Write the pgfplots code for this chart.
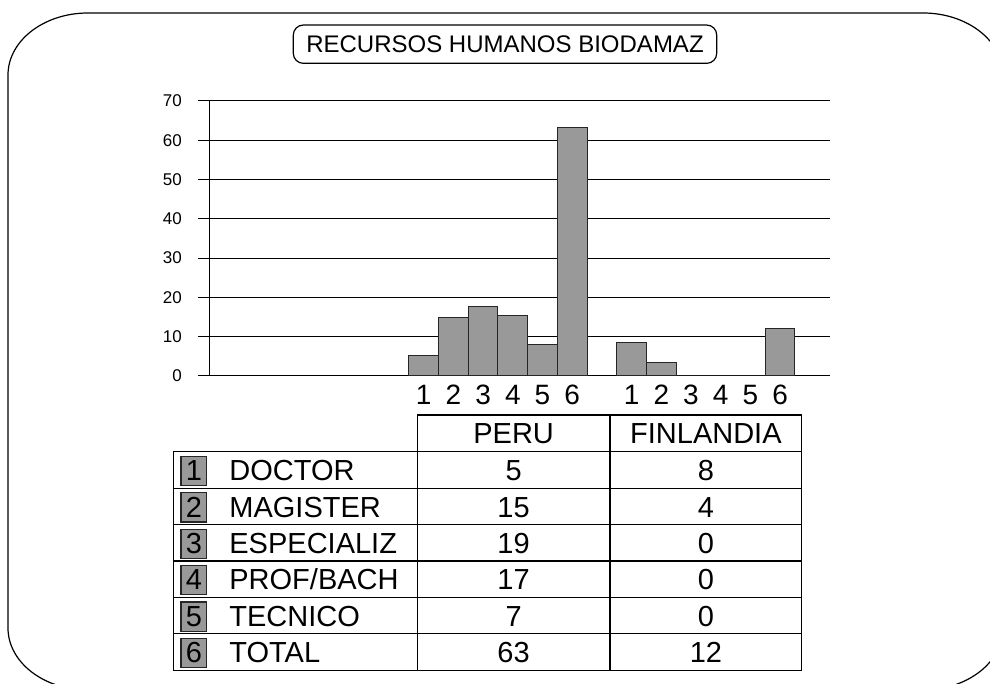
\documentclass[border=0pt]{standalone}
\usepackage{fontspec}
\setmainfont{Liberation Sans}
\usepackage{pgfplots}
\pgfplotsset{compat=1.18}
\definecolor{barg}{RGB}{153,153,153}
\begin{document}
\begin{tikzpicture}[x=0.5pt,y=0.5pt]
\useasboundingbox (0,0) rectangle (990,684);
\begin{scope}
\clip (0,0) rectangle (990,684);
\draw[line width=0.6pt] (88,671) -- (923,671) arc[start angle=90,end angle=0,x radius=80,y radius=62] -- (1003,56) arc[start angle=0,end angle=-90,x radius=80,y radius=62] -- (88,-6) arc[start angle=270,end angle=180,x radius=80,y radius=62] -- (8,609) arc[start angle=180,end angle=90,x radius=80,y radius=62] -- cycle;
\end{scope}
\node[draw, rounded corners=5pt, minimum width=211.7pt, minimum height=19.15pt, inner sep=0pt, line width=0.6pt, font=\fontsize{12}{15}\selectfont] at (505,639.8) {RECURSOS HUMANOS BIODAMAZ};
\begin{axis}[
  at={(104.65pt,154pt)}, anchor=south west,
  scale only axis, width=310.35pt, height=137.5pt,
  xmin=-6.219, xmax=14.68, ymin=0, ymax=70,
  axis lines*=left, axis line style={-, black, line width=0.5pt},
  ymajorgrids, grid style={black, line width=0.5pt},
  ytick={0,10,...,70}, tick align=outside, major tick length=5.5pt,
  ytick style={black, line width=0.5pt},
  xtick={1,2,3,4,5,6,8,9,10,11,12,13},
  xticklabels={1,2,3,4,5,6,1,2,3,4,5,6},
  xtick style={draw=none},
  xticklabel style={font=\fontsize{14}{16}\selectfont, inner sep=0pt, anchor=north, yshift=1pt},
  yticklabel style={font=\fontsize{8.5}{10}\selectfont, inner sep=0pt, anchor=east, xshift=-8pt},
  /pgf/number format/assume math mode=true,
  ybar, bar width=1, bar shift=0pt,
]
\addplot[fill=barg, draw=black!85, line width=0.5pt] coordinates {(1,5.1)(2,14.8)(3,17.6)(4,15.4)(5,7.9)(6,63.2)};
\addplot[fill=barg, draw=black!85, line width=0.5pt] coordinates {(8,8.4)(9,3.5)(10,0)(11,0)(12,0)(13,12.2)};
\end{axis}
% table
\begin{scope}[line width=0.6pt]
\draw (417.3,269) -- (801.7,269);
\draw (173.3,232.1) -- (173.3,13.7);
\draw (417.3,269) -- (417.3,13.7);
\draw (610,269) -- (610,13.7);
\draw (801.7,269) -- (801.7,13.7);
\foreach \k in {0,...,6} {
  \pgfmathsetmacro{\yy}{232.1-36.4*\k}
  \draw (173.3,\yy) -- (801.7,\yy);
}
\end{scope}
\node[anchor=base, inner sep=0pt, font=\fontsize{14.5}{16}\selectfont] at (513.6,240.7) {PERU};
\node[anchor=base, inner sep=0pt, font=\fontsize{14.5}{16}\selectfont] at (705.9,240.7) {FINLANDIA};
\foreach \lab/\p/\f [count=\i] in {DOCTOR/5/8, MAGISTER/15/4, ESPECIALIZ/19/0, PROF\slash BACH/17/0, TECNICO/7/0, TOTAL/63/12} {
  \pgfmathsetmacro{\top}{232.1-36.4*(\i-1)}
  \pgfmathsetmacro{\bot}{232.1-36.4*\i}
  \pgfmathsetmacro{\bl}{\bot+7.5}
  \draw[fill=barg, draw=black!85, line width=0.6pt] (181,\bot+2.6) rectangle (206.7,\top-4.6);
  \node[anchor=base, inner sep=0pt, font=\fontsize{14.5}{16}\selectfont] at (193.85,\bl) {\i};
  \node[anchor=base west, inner sep=0pt, font=\fontsize{14.5}{16}\selectfont] at (229,\bl) {\lab};
  \node[anchor=base, inner sep=0pt, font=\fontsize{14.5}{16}\selectfont] at (513.6,\bl) {\p};
  \node[anchor=base, inner sep=0pt, font=\fontsize{14.5}{16}\selectfont] at (705.9,\bl) {\f};
}
\end{tikzpicture}
\end{document}
